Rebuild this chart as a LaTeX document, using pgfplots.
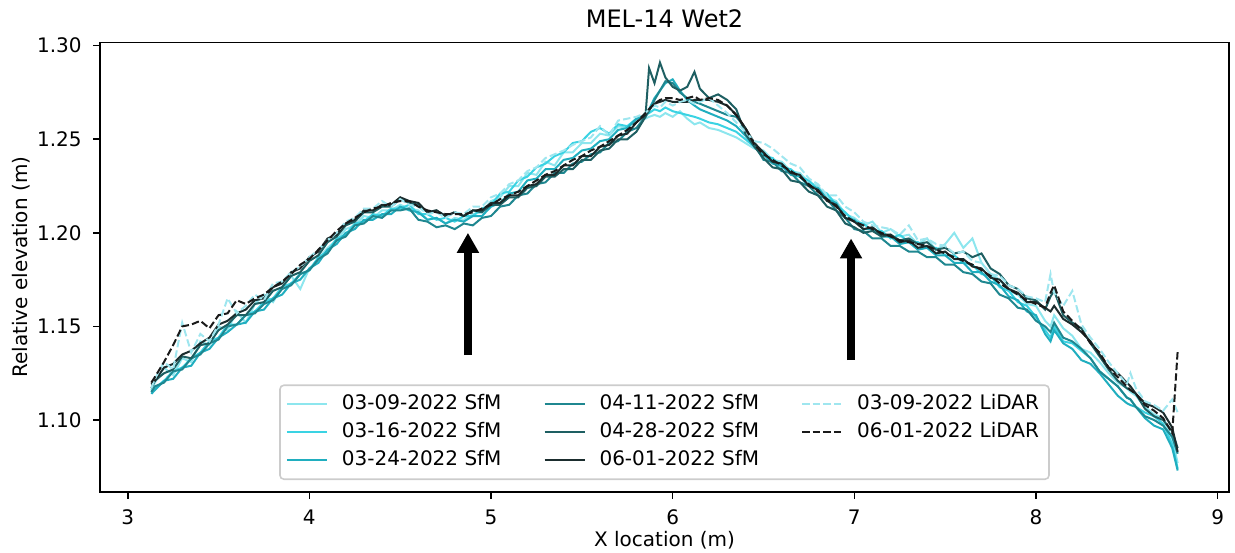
\documentclass[border=0pt]{standalone}
\usepackage{fontspec}
\setmainfont{DejaVu Sans}
\usepackage{pgfplots}
\pgfplotsset{compat=1.18}
\usepackage{pgfplotstable}
\usetikzlibrary{arrows.meta}

\definecolor{cA}{HTML}{8DE6EE}
\definecolor{cB}{HTML}{3AD3E3}
\definecolor{cC}{HTML}{20AEBF}
\definecolor{cD}{HTML}{1F8790}
\definecolor{cE}{HTML}{1E5F62}
\definecolor{cF}{HTML}{1B2D2E}
\definecolor{cG}{HTML}{9FE6EF}
\definecolor{cH}{HTML}{1A1A1A}

\pgfplotstableread{
x A B C D E F G H
3.13 1.116 1.115 1.114 1.115 1.117 1.119 1.117 1.120
3.15 1.120 1.117 1.116 1.118 1.121 1.121 1.122 1.123
3.20 1.128 1.121 1.121 1.120 1.125 1.128 1.131 1.131
3.25 1.124 1.126 1.122 1.126 1.127 1.130 1.127 1.140
3.30 1.133 1.128 1.128 1.127 1.134 1.135 1.152 1.150
3.35 1.131 1.133 1.129 1.133 1.133 1.137 1.136 1.151
3.40 1.142 1.136 1.136 1.135 1.140 1.141 1.146 1.153
3.45 1.140 1.142 1.138 1.141 1.141 1.144 1.142 1.149
3.50 1.150 1.144 1.144 1.143 1.148 1.151 1.151 1.156
3.55 1.148 1.151 1.147 1.150 1.151 1.153 1.165 1.157
3.60 1.158 1.151 1.151 1.151 1.156 1.157 1.157 1.164
3.65 1.152 1.156 1.152 1.156 1.156 1.159 1.161 1.162
3.70 1.162 1.158 1.158 1.157 1.162 1.164 1.167 1.165
3.75 1.167 1.163 1.159 1.162 1.163 1.165 1.164 1.167
3.80 1.163 1.165 1.165 1.164 1.169 1.171 1.173 1.171
3.85 1.171 1.171 1.167 1.170 1.171 1.173 1.174 1.174
3.90 1.177 1.173 1.173 1.172 1.177 1.179 1.179 1.178
3.95 1.170 1.178 1.175 1.178 1.179 1.181 1.182 1.183
4.00 1.181 1.180 1.181 1.180 1.185 1.187 1.187 1.186
4.05 1.186 1.187 1.184 1.186 1.188 1.190 1.191 1.191
4.10 1.192 1.190 1.191 1.189 1.195 1.197 1.196 1.196
4.15 1.196 1.197 1.194 1.196 1.198 1.199 1.200 1.201
4.20 1.202 1.199 1.200 1.198 1.204 1.205 1.206 1.205
4.25 1.204 1.205 1.202 1.204 1.206 1.207 1.208 1.208
4.30 1.209 1.206 1.207 1.205 1.211 1.212 1.213 1.211
4.35 1.208 1.210 1.207 1.209 1.211 1.212 1.213 1.213
4.40 1.212 1.209 1.210 1.208 1.214 1.215 1.217 1.214
4.45 1.212 1.213 1.210 1.212 1.214 1.215 1.214 1.216
4.50 1.215 1.213 1.214 1.212 1.218 1.219 1.218 1.217
4.55 1.213 1.215 1.212 1.213 1.216 1.217 1.215 1.217
4.60 1.212 1.210 1.211 1.207 1.215 1.216 1.214 1.214
4.65 1.207 1.210 1.207 1.206 1.211 1.211 1.210 1.212
4.70 1.208 1.207 1.208 1.203 1.212 1.212 1.211 1.211
4.75 1.205 1.208 1.205 1.204 1.209 1.209 1.208 1.210
4.80 1.208 1.206 1.207 1.202 1.211 1.211 1.211 1.210
4.85 1.207 1.209 1.206 1.205 1.209 1.209 1.210 1.210
4.90 1.210 1.209 1.209 1.204 1.212 1.212 1.214 1.211
4.95 1.211 1.213 1.209 1.208 1.211 1.212 1.214 1.213
5.00 1.217 1.215 1.214 1.209 1.215 1.216 1.219 1.215
5.05 1.219 1.221 1.216 1.214 1.215 1.216 1.221 1.218
5.10 1.225 1.222 1.221 1.215 1.219 1.220 1.226 1.220
5.15 1.225 1.228 1.222 1.220 1.219 1.220 1.228 1.222
5.20 1.232 1.230 1.228 1.221 1.224 1.225 1.233 1.225
5.25 1.231 1.235 1.229 1.226 1.225 1.226 1.235 1.228
5.30 1.238 1.237 1.234 1.227 1.230 1.231 1.240 1.231
5.35 1.236 1.241 1.234 1.232 1.230 1.231 1.242 1.233
5.40 1.243 1.243 1.239 1.232 1.234 1.236 1.244 1.236
5.45 1.243 1.248 1.240 1.237 1.234 1.236 1.247 1.239
5.50 1.248 1.249 1.244 1.238 1.239 1.241 1.249 1.241
5.55 1.248 1.254 1.245 1.242 1.239 1.241 1.251 1.244
5.60 1.253 1.256 1.249 1.243 1.244 1.246 1.257 1.246
5.65 1.252 1.253 1.250 1.248 1.245 1.247 1.252 1.249
5.70 1.257 1.258 1.255 1.249 1.250 1.252 1.260 1.252
5.75 1.256 1.257 1.256 1.254 1.250 1.253 1.261 1.255
5.80 1.260 1.261 1.261 1.256 1.254 1.259 1.262 1.259
5.85 1.261 1.263 1.262 1.262 1.262 1.263 1.264 1.264
5.87 1.262 1.264 1.266 1.265 1.288 1.266 1.266 1.266
5.90 1.263 1.266 1.272 1.271 1.280 1.269 1.268 1.269
5.93 1.262 1.265 1.276 1.276 1.291 1.270 1.267 1.271
5.96 1.264 1.267 1.280 1.281 1.283 1.271 1.270 1.272
6.00 1.262 1.265 1.282 1.280 1.278 1.270 1.268 1.272
6.04 1.265 1.264 1.276 1.275 1.276 1.270 1.270 1.271
6.08 1.261 1.263 1.271 1.272 1.278 1.270 1.271 1.272
6.12 1.258 1.262 1.268 1.270 1.286 1.271 1.269 1.273
6.15 1.259 1.261 1.266 1.269 1.277 1.271 1.270 1.271
6.20 1.256 1.259 1.264 1.267 1.272 1.271 1.272 1.272
6.25 1.255 1.258 1.262 1.265 1.274 1.270 1.268 1.271
6.30 1.253 1.256 1.260 1.263 1.271 1.268 1.264 1.268
6.35 1.251 1.254 1.257 1.262 1.266 1.263 1.259 1.263
6.40 1.248 1.250 1.252 1.256 1.253 1.256 1.254 1.256
6.45 1.245 1.246 1.246 1.247 1.246 1.248 1.249 1.247
6.50 1.244 1.241 1.242 1.239 1.240 1.243 1.248 1.242
6.55 1.239 1.240 1.237 1.238 1.235 1.238 1.245 1.239
6.60 1.238 1.235 1.236 1.233 1.234 1.237 1.241 1.236
6.65 1.233 1.234 1.231 1.232 1.228 1.232 1.237 1.233
6.70 1.232 1.230 1.230 1.227 1.227 1.231 1.235 1.230
6.75 1.227 1.228 1.225 1.225 1.222 1.225 1.229 1.226
6.80 1.225 1.223 1.224 1.220 1.220 1.223 1.226 1.222
6.85 1.219 1.221 1.218 1.218 1.214 1.217 1.220 1.218
6.90 1.217 1.215 1.216 1.212 1.212 1.215 1.220 1.214
6.95 1.210 1.211 1.208 1.208 1.205 1.208 1.214 1.209
7.00 1.208 1.206 1.207 1.202 1.203 1.206 1.211 1.206
7.05 1.204 1.205 1.202 1.201 1.200 1.202 1.206 1.204
7.10 1.206 1.201 1.202 1.197 1.201 1.203 1.204 1.202
7.15 1.200 1.201 1.198 1.197 1.198 1.199 1.203 1.200
7.20 1.202 1.197 1.198 1.193 1.199 1.199 1.202 1.198
7.25 1.198 1.199 1.194 1.193 1.196 1.195 1.199 1.196
7.30 1.199 1.195 1.195 1.190 1.197 1.196 1.204 1.195
7.35 1.194 1.195 1.191 1.190 1.194 1.192 1.196 1.194
7.40 1.197 1.192 1.192 1.187 1.195 1.193 1.197 1.193
7.45 1.191 1.192 1.188 1.187 1.191 1.189 1.194 1.191
7.50 1.194 1.188 1.188 1.183 1.192 1.190 1.193 1.189
7.55 1.200 1.188 1.184 1.183 1.189 1.186 1.189 1.187
7.60 1.192 1.184 1.184 1.179 1.190 1.186 1.190 1.185
7.65 1.197 1.183 1.179 1.178 1.187 1.182 1.185 1.183
7.70 1.184 1.178 1.179 1.174 1.189 1.181 1.184 1.180
7.75 1.178 1.177 1.174 1.173 1.181 1.176 1.178 1.177
7.80 1.175 1.171 1.172 1.167 1.178 1.175 1.177 1.173
7.85 1.169 1.169 1.166 1.165 1.172 1.170 1.172 1.170
7.90 1.167 1.163 1.164 1.160 1.170 1.168 1.170 1.167
7.95 1.162 1.161 1.158 1.159 1.165 1.163 1.166 1.164
8.00 1.161 1.155 1.156 1.153 1.164 1.163 1.165 1.162
8.05 1.153 1.148 1.146 1.150 1.159 1.160 1.163 1.160
8.08 1.150 1.144 1.142 1.147 1.166 1.158 1.178 1.168
8.10 1.156 1.150 1.148 1.152 1.169 1.161 1.168 1.172
8.15 1.149 1.142 1.141 1.144 1.156 1.154 1.161 1.158
8.20 1.145 1.141 1.138 1.142 1.152 1.151 1.169 1.153
8.25 1.138 1.137 1.132 1.138 1.149 1.147 1.151 1.148
8.30 1.136 1.133 1.130 1.133 1.141 1.142 1.144 1.141
8.35 1.131 1.126 1.125 1.126 1.134 1.135 1.138 1.136
8.40 1.125 1.122 1.119 1.122 1.127 1.128 1.131 1.128
8.45 1.120 1.118 1.113 1.118 1.121 1.125 1.125 1.123
8.50 1.117 1.112 1.109 1.112 1.117 1.120 1.119 1.118
8.52 1.115 1.111 1.108 1.111 1.116 1.118 1.125 1.116
8.55 1.113 1.107 1.107 1.107 1.114 1.114 1.117 1.114
8.60 1.107 1.104 1.101 1.102 1.106 1.109 1.110 1.108
8.65 1.103 1.102 1.097 1.100 1.102 1.107 1.108 1.105
8.70 1.101 1.098 1.095 1.097 1.100 1.104 1.105 1.101
8.75 1.090 1.087 1.085 1.091 1.094 1.096 1.111 1.093
8.78 1.077 1.074 1.073 1.082 1.085 1.083 1.104 1.137
}\profiles

\begin{document}
\begin{tikzpicture}
\begin{axis}[
  name=ax,
  scale only axis,
  width=564.5pt, height=224.5pt,
  xmin=2.8475, xmax=9.0625, ymin=1.0617, ymax=1.3016,
  xtick={3,4,5,6,7,8,9},
  ytick={1.10,1.15,1.20,1.25,1.30},
  /pgf/number format/assume math mode=true,
  y tick label style={/pgf/number format/fixed, /pgf/number format/fixed zerofill, /pgf/number format/precision=2},
  tick align=outside,
  major tick length=3.5pt,
  xtick pos=bottom, ytick pos=left,
  tick style={black, line width=0.8pt},
  axis line style={line width=0.8pt},
  tick label style={font=\fontsize{10}{12}\selectfont},
  xticklabel style={anchor=north, inner sep=0pt, yshift=-5.5pt},
  yticklabel style={anchor=east, inner sep=0pt, xshift=-5.5pt},
  every axis title shift=0pt,
  title={MEL-14 Wet2},
  title style={at={(axis description cs:0.5,1.0334)}, anchor=base, font=\fontsize{12}{14}\selectfont, inner sep=0pt},
  xlabel={X location (m)},
  xlabel style={at={(axis description cs:0.5,-0.1225)}, anchor=base, font=\fontsize{10}{12}\selectfont, inner sep=0pt},
  ylabel={Relative elevation (m)},
  ylabel style={at={(axis description cs:-0.0638,0.5)}, anchor=base, font=\fontsize{10}{12}\selectfont, inner sep=0pt},
  legend columns=3,
  legend cell align=left,
  legend image code/.code={\draw[#1] (0pt,0pt) -- (20pt,0pt);},
  legend style={at={(axis description cs:0.5,0.026)}, anchor=south,
    draw=black!20, line width=0.8pt, rounded corners=2pt,
    fill=white, fill opacity=0.8, text opacity=1,
    font=\fontsize{10}{12}\selectfont,
    inner xsep=3pt, inner ysep=2.5pt,
    nodes={inner sep=2pt, text height=0.75em, text depth=0.25em},
    /tikz/every odd column/.append style={column sep=5pt},
    /tikz/every even column/.append style={column sep=19pt}},
]
\addplot[forget plot, color=cA, line width=1pt] table[x=x, y=A] {\profiles};
\addplot[forget plot, color=cB, line width=1pt] table[x=x, y=B] {\profiles};
\addplot[forget plot, color=cC, line width=1pt] table[x=x, y=C] {\profiles};
\addplot[forget plot, color=cD, line width=1pt] table[x=x, y=D] {\profiles};
\addplot[forget plot, color=cE, line width=1pt] table[x=x, y=E] {\profiles};
\addplot[forget plot, color=cF, line width=1pt] table[x=x, y=F] {\profiles};
\addplot[forget plot, color=cG, line width=1pt, dash pattern=on 3.7pt off 1.6pt] table[x=x, y=G] {\profiles};
\addplot[forget plot, color=cH, line width=1pt, dash pattern=on 3.7pt off 1.6pt] table[x=x, y=H] {\profiles};

\addlegendimage{color=cA, line width=1pt}\addlegendentry{03-09-2022 SfM}
\addlegendimage{color=cD, line width=1pt}\addlegendentry{04-11-2022 SfM}
\addlegendimage{color=cG, line width=1pt, dash pattern=on 3.7pt off 1.6pt}\addlegendentry{03-09-2022 LiDAR}
\addlegendimage{color=cB, line width=1pt}\addlegendentry{03-16-2022 SfM}
\addlegendimage{color=cE, line width=1pt}\addlegendentry{04-28-2022 SfM}
\addlegendimage{color=cH, line width=1pt, dash pattern=on 3.7pt off 1.6pt}\addlegendentry{06-01-2022 LiDAR}
\addlegendimage{color=cC, line width=1pt}\addlegendentry{03-24-2022 SfM}
\addlegendimage{color=cF, line width=1pt}\addlegendentry{06-01-2022 SfM}

\draw[line width=4pt, -{Triangle[width=10.5pt, length=10pt]}] (axis cs:4.873,1.1347) -- (axis cs:4.873,1.2);
\draw[line width=4pt, -{Triangle[width=10.5pt, length=10pt]}] (axis cs:6.982,1.132) -- (axis cs:6.982,1.197);
\end{axis}
\pgfresetboundingbox
\path[use as bounding box] ([xshift=-50pt, yshift=-30.15pt]ax.south west) rectangle ([xshift=3pt, yshift=21.35pt]ax.north east);
\end{tikzpicture}
\end{document}
